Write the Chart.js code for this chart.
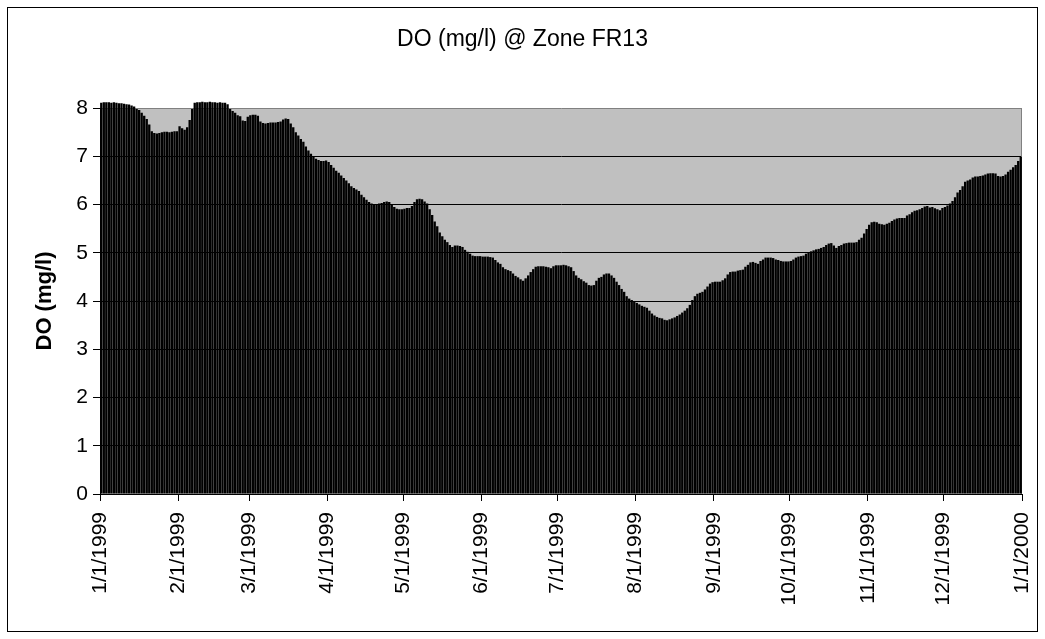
<!DOCTYPE html>
<html>
<head>
<meta charset="utf-8">
<script src="https://cdn.jsdelivr.net/npm/chart.js@4.4.1/dist/chart.umd.min.js"></script>
<style>
  html, body { margin: 0; padding: 0; background: #fff; }
</style>
</head>
<body>
<canvas id="doChart" width="1045" height="639"></canvas>
<script>
// daily DO values (mg/l), one array per month of 1999
const jan = [8.11, 8.12, 8.12, 8.12, 8.11, 8.12, 8.11, 8.10, 8.10, 8.09, 8.08, 8.07, 8.05, 8.03, 7.98, 7.96,
             7.90, 7.84, 7.77, 7.66, 7.52, 7.48, 7.47, 7.48, 7.50, 7.51, 7.51, 7.50, 7.51, 7.52, 7.52];
const feb = [7.62, 7.58, 7.55, 7.60, 7.75, 7.98, 8.11, 8.12, 8.12, 8.13, 8.12, 8.12, 8.13, 8.12,
             8.12, 8.11, 8.12, 8.11, 8.11, 8.08, 7.98, 7.94, 7.90, 7.85, 7.83, 7.74, 7.73, 7.82];
const mar = [7.85, 7.86, 7.86, 7.84, 7.72, 7.69, 7.68, 7.69, 7.70, 7.70, 7.70, 7.71, 7.72, 7.76, 7.78, 7.77,
             7.68, 7.60, 7.50, 7.43, 7.36, 7.30, 7.20, 7.12, 7.05, 7.00, 6.95, 6.92, 6.90, 6.90, 6.91];
const apr = [6.88, 6.82, 6.76, 6.70, 6.66, 6.60, 6.55, 6.50, 6.44, 6.38, 6.34, 6.31, 6.28, 6.20, 6.15,
             6.10, 6.05, 6.02, 6.01, 6.01, 6.02, 6.03, 6.05, 6.06, 6.05, 6.01, 5.95, 5.91, 5.90, 5.90];
const may = [5.91, 5.93, 5.93, 5.97, 6.05, 6.11, 6.12, 6.11, 6.06, 6.02, 5.90, 5.78, 5.65, 5.55, 5.42, 5.34,
             5.27, 5.22, 5.16, 5.12, 5.15, 5.15, 5.14, 5.12, 5.06, 5.02, 4.98, 4.94, 4.93, 4.93, 4.93];
const jun = [4.92, 4.92, 4.92, 4.91, 4.90, 4.85, 4.80, 4.77, 4.70, 4.66, 4.64, 4.62, 4.57, 4.52, 4.49,
             4.45, 4.42, 4.47, 4.53, 4.60, 4.66, 4.71, 4.72, 4.72, 4.72, 4.71, 4.70, 4.68, 4.72, 4.74];
const jul = [4.74, 4.74, 4.75, 4.74, 4.72, 4.70, 4.62, 4.53, 4.48, 4.45, 4.41, 4.38, 4.33, 4.32, 4.33, 4.42,
             4.48, 4.50, 4.55, 4.57, 4.57, 4.53, 4.48, 4.40, 4.33, 4.25, 4.19, 4.10, 4.05, 4.02, 3.98];
const aug = [3.96, 3.93, 3.90, 3.88, 3.86, 3.80, 3.74, 3.70, 3.67, 3.65, 3.64, 3.61, 3.60, 3.62, 3.64, 3.66,
             3.69, 3.72, 3.76, 3.80, 3.85, 3.92, 4.02, 4.10, 4.15, 4.17, 4.19, 4.24, 4.30, 4.36, 4.39];
const sep = [4.40, 4.40, 4.40, 4.43, 4.47, 4.55, 4.60, 4.61, 4.61, 4.63, 4.64, 4.65, 4.71, 4.75, 4.80,
             4.81, 4.79, 4.77, 4.83, 4.86, 4.90, 4.90, 4.90, 4.89, 4.86, 4.85, 4.83, 4.82, 4.82, 4.82];
const oct = [4.83, 4.86, 4.90, 4.92, 4.93, 4.94, 4.98, 5.01, 5.03, 5.05, 5.07, 5.08, 5.10, 5.12, 5.16, 5.19,
             5.20, 5.15, 5.10, 5.14, 5.16, 5.19, 5.20, 5.21, 5.21, 5.21, 5.22, 5.27, 5.31, 5.40, 5.49];
const nov = [5.58, 5.63, 5.64, 5.63, 5.60, 5.59, 5.58, 5.60, 5.62, 5.66, 5.69, 5.71, 5.72, 5.72, 5.72,
             5.77, 5.80, 5.84, 5.87, 5.88, 5.90, 5.93, 5.96, 5.97, 5.94, 5.95, 5.92, 5.90, 5.88, 5.93];
const dec = [5.95, 5.98, 6.02, 6.07, 6.15, 6.25, 6.30, 6.38, 6.47, 6.50, 6.52, 6.56, 6.58, 6.58, 6.59, 6.60,
             6.62, 6.64, 6.65, 6.65, 6.64, 6.59, 6.58, 6.59, 6.62, 6.68, 6.72, 6.77, 6.82, 6.90, 6.99];

// date axis ticks: day offset from 1/1/1999 and the label shown there
const monthTickDays = [0, 31, 59, 90, 120, 151, 181, 212, 243, 273, 304, 334, 365];
const monthTickLabels = ['1/1/1999', '2/1/1999', '3/1/1999', '4/1/1999', '5/1/1999', '6/1/1999',
                         '7/1/1999', '8/1/1999', '9/1/1999', '10/1/1999', '11/1/1999', '12/1/1999', '1/1/2000'];

const doValues = [].concat(jan, feb, mar, apr, may, jun, jul, aug, sep, oct, nov, dec);
const dayLabels = doValues.map((v, i) => i);

const FONT = "'Liberation Sans', Arial, sans-serif";

const plotFrame = {
    id: 'plotFrame',
    beforeDraw(chart) {
        const {ctx, chartArea: a} = chart;
        ctx.save();
        ctx.fillStyle = '#ffffff';
        ctx.fillRect(0, 0, chart.width, chart.height);
        ctx.fillStyle = '#c0c0c0';
        ctx.fillRect(a.left, a.top, a.right - a.left, a.bottom - a.top);
        ctx.restore();
    },
    beforeDatasetsDraw(chart) {
        const {ctx, chartArea: a} = chart;
        ctx.save();
        ctx.strokeStyle = '#808080';
        ctx.lineWidth = 1;
        ctx.beginPath();
        ctx.moveTo(Math.round(a.right) - 0.5, a.top);
        ctx.lineTo(Math.round(a.right) - 0.5, a.bottom);
        ctx.stroke();
        ctx.restore();
    },
    afterDraw(chart) {
        const ctx = chart.ctx;
        ctx.save();
        ctx.strokeStyle = '#000000';
        ctx.lineWidth = 1;
        ctx.strokeRect(7.5, 7.5, chart.width - 15, chart.height - 15);
        ctx.restore();
    }
};

var ctx = document.getElementById('doChart').getContext('2d');
var doChart = new Chart(ctx, {
    type: 'bar',
    data: {
        labels: dayLabels,
        datasets: [{
            label: 'DO (mg/l)',
            data: doValues,
            backgroundColor: '#000000',
            borderWidth: 0,
            barPercentage: 0.92,
            categoryPercentage: 1.0,
            clip: false
        }]
    },
    options: {
        responsive: false,
        animation: false,
        devicePixelRatio: 1,
        layout: { padding: 0 },
        plugins: {
            legend: { display: false },
            tooltip: { enabled: false },
            title: {
                display: true,
                text: 'DO (mg/l) @ Zone FR13',
                color: '#000',
                font: { family: FONT, size: 23, weight: 'normal' },
                padding: { top: 26, bottom: 54.4 }
            }
        },
        scales: {
            x: {
                display: false,
                offset: true
            },
            // date axis drawn over the same width as the daily bars
            xDate: {
                type: 'linear',
                position: 'bottom',
                min: 0,
                max: 365,
                offset: false,
                afterBuildTicks: (s) => { s.ticks = monthTickDays.map(d => ({ value: d })); },
                afterFit: (s) => {
                    s.height = 145;
                    s.paddingLeft = 0;
                    s.paddingRight = 23;
                },
                ticks: {
                    autoSkip: false,
                    minRotation: 90,
                    maxRotation: 90,
                    padding: 11,
                    color: '#000',
                    font: { family: FONT, size: 21 },
                    callback: (v, i) => monthTickLabels[i]
                },
                grid: { offset: false, drawOnChartArea: false, drawTicks: true, tickLength: 7, tickColor: '#000' },
                border: { display: true, color: '#000', width: 1 }
            },
            y: {
                min: 0,
                max: 8,
                afterFit: (s) => { s.width = 100; },
                ticks: { stepSize: 1, padding: 5, color: '#000', font: { family: FONT, size: 21 } },
                grid: {
                    color: (c) => (c.tick && c.tick.value === 8 ? '#808080' : '#000000'),
                    tickColor: '#000',
                    tickLength: 7
                },
                border: { display: true, color: '#000', width: 1 },
                title: {
                    display: true,
                    text: 'DO (mg/l)',
                    color: '#000',
                    font: { family: FONT, size: 22, weight: 'bold' },
                    padding: { top: 32, bottom: 0 }
                }
            }
        }
    },
    plugins: [plotFrame]
});
</script>
</body>
</html>
